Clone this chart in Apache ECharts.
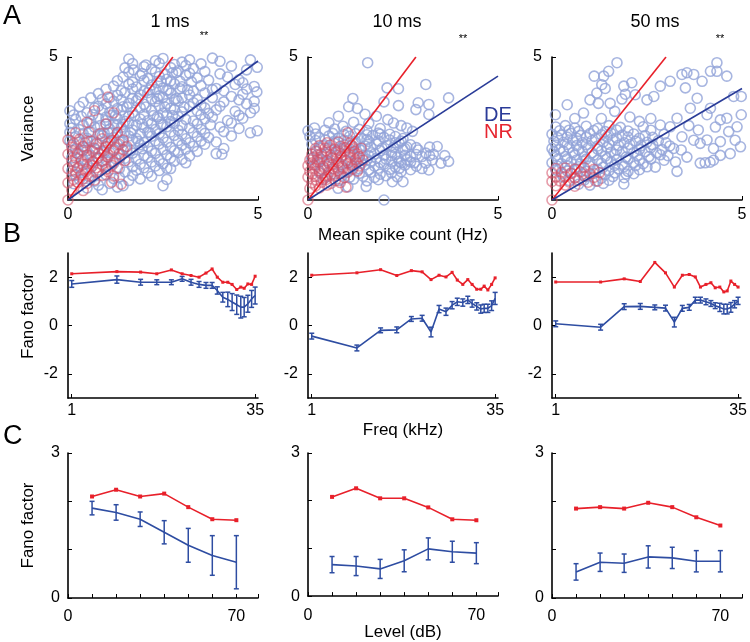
<!DOCTYPE html>
<html><head><meta charset="utf-8">
<script src="https://cdn.jsdelivr.net/npm/echarts@6/dist/echarts.min.js"></script>
<style>html,body{margin:0;padding:0;background:#fff}#c{width:750px;height:642px}</style>
</head><body><div id="c"></div>
<script>
// ---------- Panel A: variance vs mean spike count ----------
const a1Blue = [[1.6,4.93],[2.3,4.87],[2.5,4.95],[3.0,4.82],[3.2,4.9],[3.8,4.96],[4.0,4.85],[4.8,4.9],
[1.5,4.62],[1.72,4.55],[2.0,4.66],[2.2,4.58],[2.7,4.63],[2.9,4.52],[3.3,4.6],[4.3,4.68],[4.7,4.55],[4.98,4.64],
[1.45,4.3],[1.9,4.35],[2.1,4.25],[2.4,4.32],[2.6,4.22],[3.1,4.36],[3.4,4.27],[4.2,4.3],[4.5,4.2],
[1.2,3.98],[1.6,4.05],[1.8,3.95],[2.2,4.02],[2.5,3.92],[2.8,4.06],[3.0,3.96],[3.5,4.0],[3.9,3.9],[4.4,4.04],[4.9,3.97],
[0.8,3.72],[1.3,3.66],[1.5,3.76],[1.9,3.68],[2.1,3.75],[2.4,3.64],[2.7,3.73],[3.2,3.67],[3.6,3.74],[4.3,3.62],[4.6,3.7],[4.97,3.78],
[0.4,3.42],[1.0,3.36],[1.2,3.45],[1.6,3.38],[1.8,3.47],[2.0,3.35],[2.3,3.44],[2.6,3.37],[2.9,3.46],[3.3,3.4],[3.5,3.32],[4.1,3.43],[4.7,3.36],[4.9,3.45],
[0.05,3.12],[0.5,3.05],[0.9,3.15],[1.1,3.07],[1.4,3.14],[1.7,3.06],[2.2,3.13],[2.5,3.04],[2.8,3.16],[3.0,3.08],[3.4,3.12],[3.7,3.03],[3.9,3.15],[4.4,3.1],[4.8,3.05],
[0.2,2.82],[0.6,2.76],[0.8,2.86],[1.0,2.78],[1.3,2.84],[1.5,2.75],[1.9,2.83],[2.1,2.77],[2.4,2.85],[2.7,2.74],[3.1,2.82],[3.3,2.76],[3.6,2.84],[4.2,2.78],[4.6,2.86],
[0.1,2.52],[0.3,2.46],[0.7,2.55],[1.1,2.48],[1.4,2.54],[1.7,2.45],[2.0,2.53],[2.3,2.47],[2.6,2.56],[2.9,2.44],[3.2,2.52],[3.5,2.47],[4.0,2.55],[4.5,2.5],[4.98,2.42],
[0.2,2.22],[0.5,2.16],[0.9,2.25],[1.2,2.18],[1.6,2.24],[1.8,2.15],[2.2,2.23],[2.5,2.17],[2.8,2.26],[3.1,2.14],[3.4,2.22],[3.7,2.18],[4.3,2.24],[4.8,2.35],
[0.1,1.92],[0.4,1.86],[0.8,1.95],[1.0,1.88],[1.3,1.94],[1.5,1.85],[1.9,1.93],[2.1,1.87],[2.4,1.96],[2.7,1.84],[3.0,1.92],[3.3,1.88],[3.6,1.95],[4.1,1.8],
[0.3,1.62],[0.6,1.56],[1.1,1.65],[1.4,1.58],[1.7,1.64],[2.0,1.55],[2.3,1.63],[2.6,1.57],[2.9,1.66],[3.2,1.54],[3.9,1.62],[4.05,1.6],
[0.2,1.32],[0.5,1.26],[0.9,1.35],[1.2,1.28],[1.6,1.34],[1.9,1.25],[2.2,1.33],[2.5,1.27],[2.8,1.36],[3.1,1.3],
[0.1,1.02],[0.4,0.96],[0.8,1.05],[1.5,0.98],[1.8,1.04],[2.1,0.95],[2.4,1.03],[2.7,1.1],
[0.3,0.72],[0.7,0.66],[1.2,0.75],[1.6,0.68],[1.9,0.74],[2.6,0.72],
[0.5,0.42],[0.9,0.36],[1.3,0.45],[2.5,0.5],
[1.0,2.65],[1.25,2.95],[1.55,3.25],[1.85,3.55],[2.15,3.85],[2.45,4.15],[2.75,4.45],[1.15,2.35],[1.45,2.65],[1.75,2.95],[2.05,3.25],[2.35,3.55],[2.65,3.85],[2.95,4.15],[1.35,2.05],[1.65,2.35],[1.95,2.65],[2.25,2.95],[2.55,3.25],[2.85,3.55],[3.15,3.85],[1.55,1.75],[1.85,2.05],[2.15,2.35],[2.45,2.65],[2.75,2.95],[3.05,3.25],[0.65,2.05],[0.95,2.35],[0.35,1.75],[0.65,1.35],[0.95,1.65],[1.25,1.45],
[1.7,4.77],[2.05,4.72],[2.4,4.78],[2.8,4.74],[3.1,4.7],[3.5,4.76],
[1.6,4.47],[1.95,4.42],[2.3,4.48],[2.55,4.4],[2.85,4.46],[3.2,4.43],[3.6,4.49],[4.0,4.41],
[1.3,4.17],[1.7,4.12],[2.0,4.18],[2.35,4.1],[2.7,4.16],[3.25,4.13],[3.7,4.19],[4.6,4.1],
[1.0,3.87],[1.4,3.82],[1.7,3.88],[2.0,3.8],[2.3,3.86],[2.6,3.83],[2.95,3.89],[3.3,3.81],[3.8,3.86],[4.1,3.82],[4.7,3.88],
[0.6,3.57],[0.9,3.52],[1.1,3.58],[1.4,3.5],[1.7,3.56],[2.2,3.53],[2.5,3.59],[2.8,3.51],[3.0,3.57],[3.4,3.52],[3.8,3.58],[4.5,3.5],
[0.3,3.27],[0.7,3.22],[0.8,3.28],[1.3,3.2],[1.45,3.26],[1.9,3.23],[2.4,3.29],[2.7,3.21],[3.2,3.27],[3.6,3.22],[4.0,3.28],[4.9,3.2],
[0.15,2.97],[0.35,2.92],[0.65,2.98],[1.0,2.9],[1.15,2.96],[1.6,2.93],[2.0,2.99],[2.35,2.91],[2.6,2.97],[2.9,2.92],[3.5,2.98],[3.8,2.9],[4.5,2.96],
[0.05,2.67],[0.4,2.62],[0.55,2.68],[0.85,2.6],[1.2,2.66],[1.3,2.63],[1.6,2.69],[1.8,2.61],[2.2,2.67],[2.5,2.62],[2.8,2.68],[3.0,2.6],[3.4,2.66],[3.75,2.63],[4.3,2.69],
[0.05,2.37],[0.4,2.32],[0.6,2.38],[0.8,2.3],[1.05,2.36],[1.3,2.33],[1.5,2.39],[1.9,2.31],[2.1,2.37],[2.4,2.32],[2.7,2.38],[3.0,2.3],[3.3,2.36],[3.6,2.33],[4.1,2.39],
[0.05,2.07],[0.3,2.02],[0.5,2.08],[0.75,2.0],[1.1,2.06],[1.45,2.03],[1.7,2.09],[2.0,2.01],[2.3,2.07],[2.6,2.02],[2.9,2.08],[3.2,2.0],[3.5,2.06],[3.9,2.03],
[0.2,1.77],[0.5,1.72],[0.7,1.78],[0.9,1.7],[1.2,1.76],[1.65,1.73],[1.95,1.79],[2.2,1.71],[2.5,1.77],[2.8,1.72],[3.1,1.78],[3.4,1.7],
[0.1,1.47],[0.4,1.42],[0.8,1.48],[1.0,1.4],[1.5,1.46],[1.8,1.43],[2.1,1.49],[2.4,1.41],[2.7,1.47],[3.0,1.42],
[0.3,1.17],[0.6,1.12],[1.0,1.18],[1.35,1.1],[1.7,1.16],[2.0,1.13],[2.3,1.19],[2.6,1.11],
[0.2,0.87],[0.55,0.82],[1.0,0.88],[1.35,0.8],[1.7,0.86],[2.2,0.83],
[0.15,0.57],[0.8,0.52],[1.1,0.58],[1.45,0.5]];
const a1Red = [[1.05,3.6],[0.7,3.12],[1.2,3.05],[0.5,2.72],[1.0,2.66],[0.2,2.35],[0.55,2.38],[0.85,2.32],[1.3,2.36],[0.0,2.1],[0.3,2.12],[0.6,2.06],[0.9,2.14],[1.15,2.08],[1.45,2.1],[0.1,1.85],[0.4,1.88],[0.7,1.82],[1.0,1.86],[1.25,1.83],[1.55,1.87],[0.0,1.6],[0.25,1.62],[0.5,1.57],[0.8,1.63],[1.05,1.58],[1.35,1.61],[0.1,1.35],[0.35,1.37],[0.65,1.32],[0.9,1.36],[1.2,1.33],[1.5,1.38],[0.0,1.1],[0.25,1.12],[0.5,1.07],[0.75,1.13],[1.0,1.08],[1.3,1.11],[0.1,0.85],[0.35,0.87],[0.6,0.83],[0.9,0.86],[1.2,0.84],[0.0,0.6],[0.25,0.62],[0.5,0.58],[1.15,0.62],[1.4,0.55],[0.1,0.35],[0.4,0.33],[0.0,0.0],
[0.15,1.98],[0.45,2.0],[0.75,1.96],[1.05,1.99],[1.35,1.95],[0.12,1.72],[0.4,1.74],[0.65,1.7],[0.95,1.73],[1.2,1.71],[1.45,1.75],[0.2,1.48],[0.5,1.5],[0.78,1.46],[1.05,1.49],[1.35,1.47],[0.15,1.22],[0.4,1.24],[0.65,1.2],[0.9,1.23],[1.15,1.21],[0.2,0.98],[0.48,1.0],[0.75,0.96],[1.05,0.99],[0.15,0.72],[0.4,0.74],[0.7,0.7]];
const a2Blue = [[1.57,4.8],[2.08,3.92],[2.38,3.89],[3.1,4.04],[1.18,3.55],[3.7,3.57],[1.07,3.26],[1.3,3.2],[2.0,3.43],[2.38,3.3],[2.9,3.4],[3.18,3.34],[0.8,2.93],[1.5,3.0],[1.8,2.93],[2.84,3.16],[3.18,2.99],[0.55,2.7],[0.92,2.58],[1.2,2.72],[1.6,2.68],[2.1,2.81],[2.25,2.69],[2.45,2.6],
[0.0,2.42],[0.17,2.52],[0.45,2.44],[0.7,2.48],[1.0,2.4],[1.35,2.47],[1.55,2.43],[1.9,2.5],[2.6,2.52],[2.75,2.4],
[0.05,2.22],[0.3,2.18],[0.55,2.24],[0.8,2.16],[1.1,2.23],[1.4,2.17],[1.7,2.25],[2.0,2.19],[2.3,2.22],[2.5,2.15],
[0.1,1.95],[0.4,1.9],[0.7,1.98],[0.95,1.92],[1.25,1.97],[1.5,1.89],[1.8,1.96],[2.1,1.91],[2.4,1.99],[2.7,1.93],[3.4,1.87],
[0.2,1.72],[0.5,1.66],[0.8,1.74],[1.1,1.68],[1.4,1.73],[1.65,1.65],[1.9,1.72],[2.2,1.67],[2.5,1.75],[2.7,1.52],[3.1,1.64],
[0.1,1.45],[0.35,1.42],[0.65,1.48],[1.0,1.4],[1.3,1.47],[1.55,1.41],[1.8,1.46],[2.05,1.43],[2.35,1.49],[2.6,1.41],[3.0,1.52],[3.27,1.4],[3.7,1.35],
[0.2,1.22],[0.5,1.17],[0.9,1.24],[1.2,1.16],[1.5,1.23],[1.75,1.18],[2.0,1.25],[2.3,1.15],[2.55,1.22],[2.85,1.18],[3.5,1.29],
[0.3,0.96],[0.7,0.92],[1.0,0.98],[1.35,0.93],[1.65,0.97],[1.9,0.9],[2.2,0.95],[2.45,0.99],[3.18,1.05],
[0.4,0.72],[0.8,0.68],[1.2,0.73],[1.55,0.67],[1.85,0.71],[2.22,0.64],[2.5,0.64],
[0.79,0.41],[1.05,0.46],[1.53,0.47],[2.0,0.0],
[1.9,2.3],[2.3,2.0],[2.6,1.85],[2.9,1.75],[3.3,1.6],[2.8,1.3],[2.4,1.35],[1.6,1.55],[1.2,1.85],[1.6,2.05],[2.2,1.55],[3.0,1.1],[3.6,1.55],[3.2,1.85],
[0.2,2.31],[0.65,2.33],[0.95,2.29],[1.25,2.32],[1.55,2.28],[1.85,2.34],[2.15,2.3],
[0.2,2.08],[0.45,2.1],[0.7,2.06],[0.95,2.09],[1.25,2.05],[1.55,2.11],[1.85,2.07],[2.15,2.1],[2.45,2.06],
[0.3,1.82],[0.55,1.84],[0.85,1.8],[1.0,1.83],[1.35,1.79],[1.65,1.85],[1.95,1.81],[2.25,1.84],[2.55,1.8],[2.85,1.83],
[0.25,1.58],[0.5,1.6],[0.75,1.56],[1.2,1.59],[1.45,1.55],[1.75,1.61],[2.0,1.57],[2.3,1.6],[2.55,1.56],[2.85,1.59],[3.2,1.55],
[0.25,1.32],[0.55,1.34],[0.8,1.3],[1.1,1.33],[1.4,1.29],[1.65,1.35],[1.9,1.31],[2.2,1.34],[2.45,1.3],[2.7,1.33],[3.1,1.29],
[0.35,1.08],[0.65,1.1],[1.05,1.06],[1.35,1.09],[1.6,1.05],[1.85,1.11],[2.15,1.07],[2.4,1.1],[2.7,1.06],
[0.5,0.82],[0.9,0.84],[1.1,0.8],[1.45,0.83],[1.75,0.79],[2.05,0.85],[2.35,0.81]];
const a2Red = [[1.05,2.35],[0.5,2.0],[0.8,2.03],[1.1,1.98],[0.2,1.8],[0.45,1.82],[0.7,1.78],[0.95,1.83],[1.2,1.79],[1.4,1.81],[0.1,1.6],[0.35,1.62],[0.6,1.57],[0.85,1.63],[1.1,1.58],[1.3,1.61],[0.05,1.4],[0.25,1.42],[0.5,1.38],[0.75,1.43],[1.0,1.37],[1.25,1.41],[1.45,1.39],[0.0,1.2],[0.15,1.22],[0.4,1.18],[0.65,1.23],[0.9,1.17],[1.15,1.21],[1.35,1.19],[0.05,1.0],[0.3,1.02],[0.55,0.98],[0.8,1.03],[1.05,0.97],[1.3,1.01],[0.0,0.8],[0.2,0.82],[0.45,0.78],[0.7,0.83],[0.95,0.79],[0.1,0.6],[0.35,0.62],[0.6,0.58],[0.85,0.61],[0.05,0.4],[0.3,0.42],[1.0,0.45],[0.0,0.0],
[0.3,1.9],[0.58,1.92],[0.85,1.88],[1.15,1.91],[0.22,1.7],[0.48,1.72],[0.72,1.68],[0.98,1.71],[1.22,1.69],[0.15,1.5],[0.38,1.52],[0.62,1.48],[0.88,1.51],[1.12,1.49],[1.35,1.52],[0.1,1.3],[0.3,1.32],[0.55,1.28],[0.8,1.31],[1.05,1.29],[1.28,1.31],[0.18,1.1],[0.42,1.12],[0.68,1.08],[0.92,1.11],[1.18,1.09],[0.12,0.9],[0.35,0.92],[0.6,0.88],[0.85,0.91],[0.22,0.7],[0.48,0.72],[0.72,0.68],[0.2,0.5],[0.5,0.52]];
const a3Blue = [[1.71,4.8],[1.49,4.5],[1.36,4.33],[1.11,4.33],[1.31,4.03],[1.4,3.9],[1.18,3.74],[1.0,3.5],[1.22,3.38],[1.53,3.38],[0.83,3.04],[0.4,3.33],[0.09,2.98],[1.89,3.98],[2.1,4.1],[1.93,3.7],[1.84,3.53],[2.19,3.68],[2.5,3.5],[2.68,3.62],[2.85,3.98],[3.11,4.15],[3.42,4.39],[3.55,4.45],[3.73,4.39],[3.95,4.15],[4.17,4.5],[4.34,4.8],[4.6,4.33],[4.34,4.5],[3.51,3.92],[3.82,3.56],[4.17,3.21],[4.78,3.62],[4.98,3.62],[4.98,2.98],[4.87,2.56],[4.6,2.86],[4.43,2.8],[4.08,2.98],[3.64,3.21],[3.29,2.86],[3.11,2.56],[2.85,2.62],[3.42,2.21],[3.73,2.09],[3.9,1.98],[4.08,2.1],[4.25,1.8],[4.43,2.04],[4.65,2.39],[4.82,2.09],[4.96,1.86],[4.69,1.62],[4.43,1.56],[4.25,1.39],[3.9,1.29],[4.03,1.3],[4.16,1.32],[3.25,1.33],[3.55,1.5],[3.29,1.0],[2.72,1.15],[2.15,0.92],[1.89,0.56],
[3.0,2.0],[3.2,1.8],[3.05,1.55],[2.95,2.3],[3.6,2.6],[3.85,2.45],[4.3,2.55],[3.4,1.75],[2.6,2.85],[2.3,2.75],[2.05,2.9],[0.6,2.85],[1.3,2.85],[1.65,3.1],
[0.1,2.55],[0.35,2.6],[0.6,2.52],[0.9,2.58],[1.2,2.5],[1.5,2.6],[1.8,2.54],[2.4,2.56],
[0.0,2.3],[0.25,2.27],[0.5,2.33],[0.75,2.26],[1.0,2.32],[1.3,2.28],[1.55,2.34],[1.85,2.27],[2.15,2.31],[2.45,2.25],
[0.05,2.05],[0.3,2.02],[0.55,2.08],[0.8,2.01],[1.05,2.07],[1.35,2.03],[1.6,2.09],[1.9,2.0],[2.2,2.06],[2.5,2.02],[2.8,2.08],
[0.0,1.8],[0.2,1.77],[0.45,1.83],[0.7,1.76],[0.95,1.82],[1.2,1.78],[1.45,1.84],[1.7,1.75],[2.0,1.81],[2.3,1.77],[2.6,1.83],[2.9,1.76],
[0.1,1.55],[0.35,1.52],[0.6,1.58],[0.85,1.51],[1.1,1.57],[1.4,1.53],[1.65,1.59],[1.95,1.5],[2.25,1.56],[2.55,1.52],[2.85,1.58],
[0.0,1.3],[0.25,1.27],[0.5,1.33],[0.75,1.26],[1.0,1.32],[1.3,1.28],[1.55,1.34],[1.85,1.25],[2.15,1.31],[2.4,1.27],
[0.1,1.05],[0.4,1.02],[0.65,1.08],[0.9,1.01],[1.2,1.07],[1.5,1.03],[1.75,1.09],[2.0,1.0],[2.3,1.06],
[0.3,0.8],[0.6,0.77],[0.9,0.83],[1.3,0.76],[1.6,0.82],[1.9,0.78],
[0.7,0.55],[1.0,0.52],[1.35,0.58],
[0.2,2.42],[0.45,2.44],[0.7,2.4],[1.1,2.43],[1.4,2.39],[1.7,2.45],[2.0,2.41],[2.6,2.44],
[0.15,2.18],[0.4,2.2],[0.65,2.16],[0.9,2.19],[1.15,2.15],[1.45,2.21],[1.7,2.17],[2.0,2.2],[2.3,2.16],[2.65,2.19],
[0.1,1.92],[0.4,1.94],[0.65,1.9],[0.9,1.93],[1.2,1.89],[1.5,1.95],[1.75,1.91],[2.05,1.94],[2.35,1.9],[2.65,1.93],[3.1,1.89],
[0.05,1.68],[0.3,1.7],[0.55,1.66],[0.8,1.69],[1.05,1.65],[1.3,1.71],[1.55,1.67],[1.85,1.7],[2.15,1.66],[2.45,1.69],[2.75,1.65],
[0.15,1.42],[0.4,1.44],[0.65,1.4],[0.9,1.43],[1.2,1.39],[1.45,1.45],[1.7,1.41],[2.0,1.44],[2.3,1.4],[2.6,1.43],[2.95,1.39],
[0.15,1.18],[0.4,1.2],[0.7,1.16],[1.0,1.19],[1.35,1.15],[1.65,1.21],[1.9,1.17],[2.2,1.2],[2.5,1.16],
[0.25,0.92],[0.5,0.94],[0.8,0.9],[1.1,0.93],[1.4,0.89],[1.65,0.95],[1.95,0.91],
[0.45,0.68],[0.85,0.7],[1.15,0.66],[1.5,0.69]];
const a3Red = [[0.1,1.1],[0.35,1.12],[0.6,1.08],[0.85,1.13],[1.1,1.07],[0.0,0.95],[0.25,0.97],[0.5,0.93],[0.75,0.98],[1.0,0.92],[1.25,0.96],[0.1,0.8],[0.35,0.82],[0.6,0.78],[0.85,0.83],[1.1,0.79],[0.0,0.65],[0.2,0.67],[0.45,0.63],[0.7,0.68],[0.95,0.62],[1.2,0.66],[0.1,0.5],[0.35,0.52],[0.6,0.48],[0.0,0.0]];
// fit line end points (from origin)
const redFitEnd  = [[2.76,5],[2.84,5],[3.0,5]];
const blueFitEnd = [[5,4.86],[5,4.33],[5,3.9]];

// ---------- Panel B: Fano factor vs frequency ----------
const freq = [1, 2.4, 3.8, 5.2, 6.9, 8.5, 10.1, 11.8, 13.5, 15.2, 16.8, 18.7, 20.6, 22.4, 24.5, 26.5, 28.3, 30.4, 32.7, 35];
const b1Red  = [2.14,2.23,2.21,2.14,2.30,2.14,2.07,2.00,2.17,2.34,2.00,1.79,1.79,1.70,1.49,1.59,1.54,1.72,1.70,2.04];
const b1Blue = [1.72,1.90,1.79,1.79,1.79,1.93,1.79,1.70,1.66,1.66,1.45,1.17,1.08,0.97,0.86,0.76,0.76,0.90,1.10,1.24];
const b1Err  = [0.14,0.15,0.12,0.10,0.10,0.10,0.12,0.12,0.12,0.12,0.15,0.20,0.30,0.35,0.40,0.45,0.40,0.35,0.35,0.35];
const b2Red  = [2.08,2.18,2.31,2.07,2.27,2.22,1.90,2.08,2.01,2.20,1.88,1.70,1.90,1.70,1.50,1.50,1.63,1.47,1.70,1.97];
const b2Blue = [-0.44,-0.93,-0.20,-0.18,0.27,0.30,-0.27,0.68,0.57,0.84,0.98,0.95,1.06,0.91,0.79,0.68,0.71,0.71,0.82,1.12];
const b2Err  = [0.12,0.12,0.10,0.12,0.10,0.12,0.20,0.15,0.15,0.15,0.15,0.15,0.15,0.15,0.15,0.17,0.17,0.17,0.20,0.25];
const b3Red  = [1.80,1.80,1.93,1.82,2.61,2.18,1.59,2.08,2.11,2.01,1.59,1.70,1.77,1.56,1.59,1.39,1.43,1.84,1.70,1.59];
const b3Blue = [0.07,-0.07,0.78,0.79,0.75,0.72,0.14,0.71,0.75,1.05,1.05,0.98,0.91,0.82,0.75,0.68,0.68,0.75,0.88,1.02];
const b3Err  = [0.12,0.12,0.12,0.12,0.10,0.12,0.20,0.12,0.12,0.12,0.12,0.12,0.12,0.12,0.17,0.20,0.20,0.20,0.15,0.15];

// ---------- Panel C: Fano factor vs level ----------
const level = [10,20,30,40,50,60,70];
const c1Red  = [2.10,2.24,2.10,2.16,1.88,1.63,1.61];
const c1Blue = [1.86,1.77,1.63,1.36,1.09,0.88,0.74];
const c1Err  = [0.14,0.16,0.15,0.24,0.35,0.41,0.55];
const c2Red  = [2.08,2.26,2.05,2.05,1.86,1.61,1.59];
const c2Blue = [0.66,0.63,0.57,0.74,0.99,0.93,0.90];
const c2Err  = [0.17,0.20,0.20,0.23,0.23,0.22,0.22];
const c3Red  = [1.85,1.88,1.85,1.97,1.88,1.67,1.50];
const c3Blue = [0.54,0.74,0.72,0.85,0.83,0.76,0.76];
const c3Err  = [0.17,0.19,0.19,0.23,0.22,0.22,0.22];

const titles = ['1 ms','10 ms','50 ms'];
const sigMarks = ['**','**','**'];
const legendNames = ['DE','NR'];

// ---------- build ----------
const FONT = '"Liberation Sans", Arial, Helvetica, sans-serif';
const RED = '#e8202a', BLUE = '#2e4da2', FITBLUE = '#2a3c98';
const SC_BLUE = '#91a2d8', SC_RED = 'rgba(210,80,104,0.7)';
const lefts = [68, 308, 552], W = 190;
const rowTop = [57, 253, 453], rowH = [143, 145, 145];

const grids = [], xAxis = [], yAxis = [], series = [];
const axLine = {show:true, onZero:false, lineStyle:{color:'#000', width:1.6}};
const axTick = {show:true, inside:true, length:4, lineStyle:{color:'#000', width:1}};
const lbl = (m) => ({color:'#000', fontSize:16, fontFamily:FONT, margin:m});
const nameStyle = {color:'#000', fontSize:17, fontFamily:FONT};

for (let r = 0; r < 3; r++) {
  for (let i = 0; i < 3; i++) {
    grids.push({left: lefts[i], top: rowTop[r], width: W, height: rowH[r]});
  }
}

const aBlue = [a1Blue, a2Blue, a3Blue], aRed = [a1Red, a2Red, a3Red];
const bRed = [b1Red, b2Red, b3Red], bBlue = [b1Blue, b2Blue, b3Blue], bErr = [b1Err, b2Err, b3Err];
const cRed = [c1Red, c2Red, c3Red], cBlue = [c1Blue, c2Blue, c3Blue], cErr = [c1Err, c2Err, c3Err];

function errSeries(gi, xs, ys, es, color, cap) {
  return {
    type:'custom', xAxisIndex:gi, yAxisIndex:gi, z:4, silent:true,
    encode:{x:0, y:[1,2]},
    data: xs.map((x,k) => [x, ys[k]-es[k], ys[k]+es[k]]),
    renderItem: (params, api) => {
      const x = api.value(0);
      const lo = api.coord([x, api.value(1)]);
      const hi = api.coord([x, api.value(2)]);
      const st = {stroke:color, lineWidth:1.5};
      return {type:'group', children:[
        {type:'line', shape:{x1:lo[0], y1:lo[1], x2:hi[0], y2:hi[1]}, style:st},
        {type:'line', shape:{x1:lo[0]-cap, y1:lo[1], x2:lo[0]+cap, y2:lo[1]}, style:st},
        {type:'line', shape:{x1:hi[0]-cap, y1:hi[1], x2:hi[0]+cap, y2:hi[1]}, style:st}
      ]};
    }
  };
}

for (let i = 0; i < 3; i++) {
  // Row A
  const ga = i;
  xAxis[ga] = {gridIndex:ga, type:'value', min:0, max:5, interval:5,
    axisLine:axLine, axisTick:axTick, splitLine:{show:false}, axisLabel:lbl(7),
    name: i===1 ? 'Mean spike count (Hz)' : '', nameLocation:'middle', nameGap:27, nameTextStyle:nameStyle};
  yAxis[ga] = {gridIndex:ga, type:'value', min:0, max:5, interval:5,
    axisLine:axLine, axisTick:axTick, splitLine:{show:false},
    axisLabel:Object.assign(lbl(10), {showMinLabel:false}),
    name: i===0 ? 'Variance' : '', nameLocation:'middle', nameGap:31, nameTextStyle:nameStyle};
  series.push({type:'scatter', name:'DE', xAxisIndex:ga, yAxisIndex:ga, data:aBlue[i], symbol:'circle', symbolSize:10,
    itemStyle:{color:'rgba(0,0,0,0)', borderColor:SC_BLUE, borderWidth:1.6}, z:2, silent:true});
  series.push({type:'scatter', name:'NR', xAxisIndex:ga, yAxisIndex:ga, data:aRed[i], symbol:'circle', symbolSize:10,
    itemStyle:{color:'rgba(0,0,0,0)', borderColor:SC_RED, borderWidth:1.6}, z:3, silent:true});
  series.push({type:'line', xAxisIndex:ga, yAxisIndex:ga, data:[[0,0], redFitEnd[i]], showSymbol:false,
    lineStyle:{color:RED, width:1.6}, z:5, silent:true});
  series.push({type:'line', xAxisIndex:ga, yAxisIndex:ga, data:[[0,0], blueFitEnd[i]], showSymbol:false,
    lineStyle:{color:FITBLUE, width:1.6}, z:5, silent:true});

  // Row B
  const gb = 3 + i;
  xAxis[gb] = {gridIndex:gb, type:'log', logBase:10, min:0.93, max:37,
    axisLine:axLine, axisTick:Object.assign({}, axTick, {customValues:[1,35]}), splitLine:{show:false}, minorTick:{show:false},
    axisLabel:Object.assign(lbl(5), {customValues:[1,35]}),
    name: i===1 ? 'Freq (kHz)' : '', nameLocation:'middle', nameGap:24, nameTextStyle:nameStyle};
  yAxis[gb] = {gridIndex:gb, type:'value', min:-3, max:3,
    axisLine:axLine, axisTick:Object.assign({}, axTick, {customValues:[-2,0,2]}), splitLine:{show:false},
    axisLabel:Object.assign(lbl(10), {customValues:[-2,0,2]})};
  series.push({type:'line', xAxisIndex:gb, yAxisIndex:gb, data:freq.map((f,k)=>[f, bRed[i][k]]),
    symbol:'rect', symbolSize:3, itemStyle:{color:RED}, lineStyle:{color:RED, width:1.6}, z:5, silent:true});
  series.push({type:'line', xAxisIndex:gb, yAxisIndex:gb, data:freq.map((f,k)=>[f, bBlue[i][k]]),
    showSymbol:false, lineStyle:{color:BLUE, width:1.6}, z:5, silent:true});
  series.push(errSeries(gb, freq, bBlue[i], bErr[i], BLUE, 2.5));

  // Row C
  const gc = 6 + i;
  xAxis[gc] = {gridIndex:gc, type:'value', min:0, max:79, interval:10,
    axisLine:axLine, axisTick:axTick, splitLine:{show:false},
    axisLabel:Object.assign(lbl(11), {formatter:(v)=> (v===0||v===70) ? String(v) : ''}),
    name: i===1 ? 'Level (dB)' : '', nameLocation:'middle', nameGap:23, nameTextStyle:nameStyle};
  yAxis[gc] = {gridIndex:gc, type:'value', min:0, max:3, interval:1,
    axisLine:axLine, axisTick:axTick, splitLine:{show:false},
    axisLabel:Object.assign(lbl(8), {formatter:(v)=> (v===0||v===3) ? String(v) : ''}),
    name: i===0 ? 'Fano factor' : '', nameLocation:'middle', nameGap:31, nameTextStyle:nameStyle};
  series.push({type:'line', xAxisIndex:gc, yAxisIndex:gc, data:level.map((l,k)=>[l, cRed[i][k]]),
    symbol:'rect', symbolSize:4, itemStyle:{color:RED}, lineStyle:{color:RED, width:1.6}, z:5, silent:true});
  series.push({type:'line', xAxisIndex:gc, yAxisIndex:gc, data:level.map((l,k)=>[l, cBlue[i][k]]),
    showSymbol:false, lineStyle:{color:BLUE, width:1.6}, z:5, silent:true});
  series.push(errSeries(gc, level, cBlue[i], cErr[i], BLUE, 2.5));
}

const txt = (t, x, y, size, color, align, rot) => ({type:'text', x:x, y:y, rotation:rot||0, silent:true,
  style:{text:t, fill:color||'#000', font: size + 'px ' + FONT, textAlign:align||'center', textVerticalAlign:'middle'}});

const graphic = [
  txt('A', 3, 17, 27, '#000', 'left'),
  txt('B', 3, 235, 27, '#000', 'left'),
  txt('C', 3, 437, 27, '#000', 'left'),
  txt(titles[0], 170, 22, 18), txt(titles[1], 397, 22, 18), txt(titles[2], 655, 22, 18),
  txt(sigMarks[0], 204, 36, 11), txt(sigMarks[1], 463, 39, 11), txt(sigMarks[2], 720, 39, 11),
  txt(legendNames[0], 484, 115, 20, '#2b3b98', 'left'),
  txt(legendNames[1], 484, 132, 20, '#e62530', 'left'),
  txt('Fano factor', 28, 316, 17, '#000', 'center', Math.PI/2)
];

const chart = echarts.init(document.getElementById('c'), null, {renderer:'canvas'});
chart.setOption({animation:false, backgroundColor:'#fff', grid:grids, xAxis:xAxis, yAxis:yAxis, series:series, graphic:graphic});
</script></body></html>
